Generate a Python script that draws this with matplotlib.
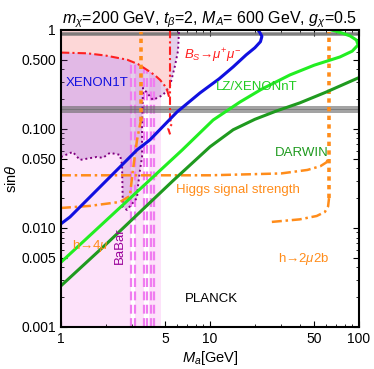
import numpy as np
import matplotlib
matplotlib.use('Agg')
import matplotlib.pyplot as plt
from matplotlib.ticker import FixedLocator, FixedFormatter, NullFormatter

plt.rcParams['font.family'] = ['Liberation Sans', 'DejaVu Sans']
plt.rcParams['mathtext.fontset'] = 'custom'
plt.rcParams['mathtext.rm'] = 'Liberation Sans'
plt.rcParams['mathtext.it'] = 'Liberation Sans:italic'

# ---- data (M_a in GeV, sin theta) ----
xenon1t_m = [1.0, 1.15, 3.24, 3.95, 6.0, 8.57, 11.5, 14.3, 17.5, 20.0, 21.8, 22.3, 21.6, 21.0]
xenon1t_s = [0.011, 0.0129, 0.0614, 0.0774, 0.148, 0.231, 0.32, 0.423, 0.56, 0.66, 0.76, 0.86, 0.94, 1.0]

lz_m = [1.0, 6.49, 10.5, 15.9, 22.0, 34.4, 50.0, 74.5, 90.0, 98.5, 96.0, 87.0, 75.0, 62.0]
lz_s = [0.0045, 0.061, 0.123, 0.187, 0.25, 0.351, 0.44, 0.533, 0.61, 0.705, 0.79, 0.87, 0.94, 1.02]

darwin_m = [1.0, 2.0, 5.65, 10.0, 14.3, 20.0, 28.0, 40.0, 60.0, 100.0]
darwin_s = [0.0026, 0.0068, 0.030, 0.066, 0.098, 0.125, 0.152, 0.183, 0.235, 0.33]

# purple dotted boundary (excluded region lies above / left)
purp_m = [1.0, 1.20, 1.34, 1.74, 1.91, 2.13, 2.49, 2.57, 2.60, 2.77, 3.24, 3.28,
          3.39, 3.50, 3.50, 3.55, 4.14, 4.84, 5.39, 5.82, 6.10, 6.2]
purp_s = [0.052, 0.0586, 0.0486, 0.0521, 0.051, 0.0573, 0.0547, 0.0433, 0.0163,
          0.0152, 0.0201, 0.0259, 0.0385, 0.052, 0.105, 0.259, 0.196, 0.220,
          0.272, 0.433, 0.614, 1.0]

# Bs -> mu mu
bs_m = [1.0, 1.5, 2.0, 2.78, 3.3, 3.78, 4.25, 4.62, 4.95, 5.15, 5.39]
bs_s = [0.59, 0.58, 0.55, 0.50, 0.45, 0.394, 0.35, 0.313, 0.275, 0.247, 0.196]
bs_vert_m = [5.39, 5.39, 5.39, 5.55, 5.25, 5.4]
bs_vert_s = [1.0, 0.14, 0.125, 0.112, 0.100, 0.088]

# BaBar excluded spans and dashed edges
babar_lo = [1.0, 3.15, 3.9]
babar_hi = [2.95, 3.6, 4.7]
babar_dash = [2.95, 3.15, 3.6, 3.75, 4.05, 4.2]

# h -> 4 mu
h4mu_m = [1.0, 1.57, 2.49, 2.9, 3.04, 3.24, 3.44]
h4mu_s = [0.0159, 0.0167, 0.0183, 0.021, 0.0385, 0.0775, 0.123]
h4mu_top_m = [3.44, 3.44]
h4mu_top_s = [0.12, 0.95]

# h -> 2mu 2b and Higgs signal strength
h2m2b_m = [26.0, 40.0, 52.0, 59.0, 62.0, 62.9, 62.9]
h2m2b_s = [0.0115, 0.0122, 0.0132, 0.0145, 0.0165, 0.02, 0.95]
higgs_m = [1.0, 10.0, 30.0, 45.0, 55.0, 60.5, 62.9]
higgs_s = [0.034, 0.034, 0.0355, 0.0385, 0.042, 0.046, 0.052]

# grey horizontal bands
band_top = [0.88, 0.90, 0.92]
band_mid = [0.148, 0.154, 0.160, 0.166]

fig = plt.figure(figsize=(3.74, 3.69), dpi=100)
ax = fig.add_axes([0.163, 0.114, 0.797, 0.805])
ax.set_xscale('log'); ax.set_yscale('log')
ax.set_xlim(1, 100); ax.set_ylim(0.001, 1)

# shaded regions
for lo, hi in zip(babar_lo, babar_hi):
    ax.fill_between([lo, hi], 0.001, 1, color='#fde2fa', lw=0, zorder=1)
ax.fill(list(purp_m) + [1.0], list(purp_s) + [1.0], color=(0.58, 0.25, 0.68),
        alpha=0.25, lw=0, zorder=2)
for xv in babar_dash:
    ax.plot([xv, xv], [0.001, 1], color='#f07cf0', lw=1.6, ls=(0, (4, 2)), zorder=3)
ax.fill(list(bs_m) + [5.39, 1.0], list(bs_s) + [1.0, 1.0], color='#fdd7d7',
        lw=0, zorder=4)

for yv in band_top + band_mid:
    ax.axhline(yv, color='#6a6a6a', lw=1.1, alpha=0.8, zorder=5)

ax.plot(purp_m, purp_s, color='#800080', lw=1.4, ls=(0, (1, 1.5)), zorder=6)
ax.plot(bs_m, bs_s, color='#ff2020', lw=1.5, ls=(0, (4, 1.5, 1, 1.5)), zorder=6)
ax.plot(bs_vert_m, bs_vert_s, color='#ff2020', lw=1.5, ls=(0, (4, 1.5, 1, 1.5)), zorder=6)

orange = '#ff8c1a'
ax.plot(h4mu_m, h4mu_s, color=orange, lw=1.8, ls=(0, (4, 1.5, 1, 1.5)), zorder=6)
ax.plot(h4mu_top_m, h4mu_top_s, color=orange, lw=2.6, ls=(0, (1.2, 1.2)), zorder=6)
ax.plot(h2m2b_m[:-1], h2m2b_s[:-1], color=orange, lw=1.8, ls=(0, (4, 1.5, 1, 1.5)), zorder=6)
ax.plot(h2m2b_m[-2:], h2m2b_s[-2:], color=orange, lw=2.6, ls=(0, (1.2, 1.2)), zorder=6)
ax.plot(higgs_m, higgs_s, color=orange, lw=1.8, ls=(0, (4, 1.5, 1, 1.5)), zorder=6)

ax.plot(darwin_m, darwin_s, color='#1f9a1f', lw=2.2, zorder=7)
ax.plot(lz_m, lz_s, color='#22ee22', lw=2.2, zorder=7)
ax.plot(xenon1t_m, xenon1t_s, color='#1010e0', lw=2.2, zorder=7)

# labels
fs = 9.5
ax.text(1.08, 0.29, 'XENON1T', color='#1010e0', fontsize=fs, va='center', zorder=8)
ax.text(6.7, 0.55, r'$B_S$→$\mu^{+}\mu^{-}$', color='#ff2020', fontsize=fs,
        va='center', zorder=8)
ax.text(11.0, 0.266, 'LZ/XENONnT', color='#22cc22', fontsize=fs, va='center', zorder=8)
ax.text(27.3, 0.057, 'DARWIN', color='#1f9a1f', fontsize=fs, va='center', zorder=8)
ax.text(5.92, 0.0242, 'Higgs signal strength', color=orange, fontsize=fs,
        va='center', zorder=8)
ax.text(1.19, 0.0066, r'h→4$\mu$', color=orange, fontsize=fs, va='center', zorder=8)
ax.text(2.49, 0.0066, 'BaBar', color='#990099', fontsize=fs, va='center',
        ha='center', rotation=90, zorder=8)
ax.text(28.6, 0.0048, r'h→2$\mu$2b', color=orange, fontsize=fs, va='center', zorder=8)
ax.text(6.8, 0.0019, 'PLANCK', color='black', fontsize=fs, va='center', zorder=8)

# axes styling
ax.xaxis.set_major_locator(FixedLocator([1, 5, 10, 50, 100]))
ax.xaxis.set_major_formatter(FixedFormatter(['1', '5', '10', '50', '100']))
ax.xaxis.set_minor_formatter(NullFormatter())
ax.yaxis.set_major_locator(FixedLocator([0.001, 0.005, 0.01, 0.05, 0.1, 0.5, 1]))
ax.yaxis.set_major_formatter(FixedFormatter(['0.001', '0.005', '0.010', '0.050',
                                             '0.100', '0.500', '1']))
ax.yaxis.set_minor_formatter(NullFormatter())
ax.tick_params(which='both', direction='in', top=True, right=True, labelsize=10,
               colors='black')
ax.tick_params(which='major', length=4)
ax.tick_params(which='minor', length=2)
for sp in ax.spines.values():
    sp.set_linewidth(1.5)
    sp.set_zorder(10)

ax.set_xlabel(r'$M_a$[GeV]', fontsize=10.5, labelpad=2)
ax.set_ylabel(r'sin$\theta$', fontsize=10.5, labelpad=2)
ax.set_title(r'$m_\chi$=200 GeV, $t_\beta$=2, $M_A$= 600 GeV, $g_\chi$=0.5',
             fontsize=11.5, pad=5)

fig.savefig('out.png', dpi=100)
